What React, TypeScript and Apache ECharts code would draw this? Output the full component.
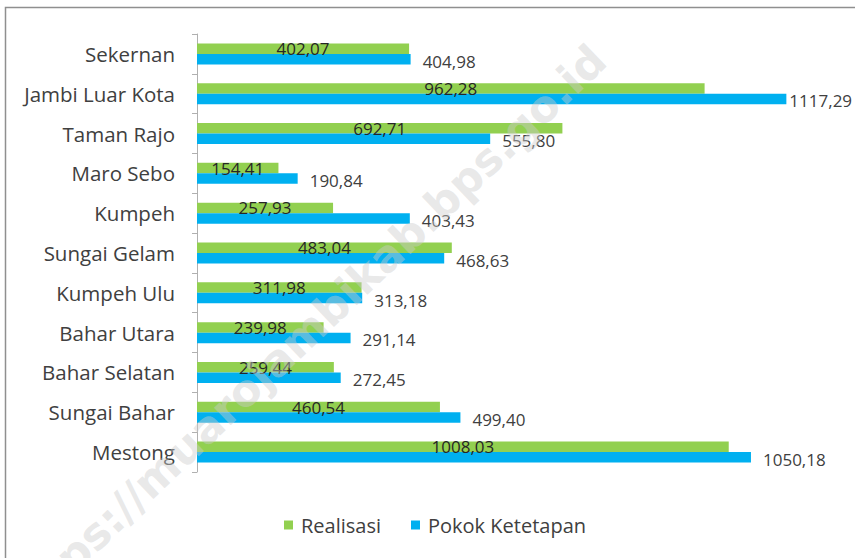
import React, { useEffect, useRef } from "react";
import * as echarts from "echarts";

const categories = [
  "Sekernan",
  "Jambi Luar Kota",
  "Taman Rajo",
  "Maro Sebo",
  "Kumpeh",
  "Sungai Gelam",
  "Kumpeh Ulu",
  "Bahar Utara",
  "Bahar Selatan",
  "Sungai Bahar",
  "Mestong",
];

const realisasi = [402.07, 962.28, 692.71, 154.41, 257.93, 483.04, 311.98, 239.98, 259.44, 460.54, 1008.03];
const pokokKetetapan = [404.98, 1117.29, 555.8, 190.84, 403.43, 468.63, 313.18, 291.14, 272.45, 499.4, 1050.18];

const seriesNames = ["Realisasi", "Pokok Ketetapan"];
const watermark = "https://muarojambikab.bps.go.id";

const fmt = (v: number) => v.toFixed(2).replace(".", ",");

export default function App() {
  const ref = useRef<HTMLDivElement>(null);
  useEffect(() => {
    if (!ref.current) return;
    const chart = echarts.init(ref.current, undefined, { renderer: "svg" });
    const font = "'Open Sans', 'Noto Sans', sans-serif";
    const axisMax = 1200;
    // labels near the right edge are pulled closer to their bar, as in the reference
    const blueData = pokokKetetapan.map((v) =>
      v > axisMax * 0.9 ? { value: v, label: { distance: 3 } } : v
    );
    chart.setOption({
      animation: false,
      backgroundColor: "#ffffff",
      textStyle: { fontFamily: font },
      grid: { left: 197, top: 34, width: 633, height: 438 },
      legend: {
        data: seriesNames,
        left: 279,
        top: 510,
        icon: "rect",
        itemWidth: 9,
        itemHeight: 9,
        itemGap: 30,
        textStyle: { fontSize: 20, color: "#404040", fontFamily: font, padding: [0, 0, 0, 3] },
      },
      xAxis: {
        type: "value",
        min: 0,
        max: axisMax,
        show: false,
      },
      yAxis: {
        type: "category",
        data: categories,
        inverse: true,
        axisLine: { show: true, lineStyle: { color: "#b0b0b0", width: 1 } },
        axisTick: { show: true, length: 5, lineStyle: { color: "#b0b0b0" } },
        axisLabel: { fontSize: 20.5, color: "#404040", margin: 22, fontFamily: font },
      },
      series: [
        {
          name: seriesNames[0],
          type: "bar",
          data: realisasi,
          barWidth: 10.5,
          barGap: "0%",
          itemStyle: { color: "#92D050" },
          label: {
            show: true,
            position: "inside",
            fontSize: 17,
            color: "#262626",
            fontFamily: font,
            formatter: (p: any) => fmt(p.value),
          },
        },
        {
          name: seriesNames[1],
          type: "bar",
          data: blueData,
          barWidth: 10.5,
          barGap: "0%",
          itemStyle: { color: "#00B0F0" },
          label: {
            show: true,
            position: "right",
            distance: 12,
            offset: [0, 2],
            fontSize: 17,
            color: "#404040",
            fontFamily: font,
            formatter: (p: any) => fmt(p.value),
          },
        },
      ],
      graphic: [
        {
          type: "rect",
          z: -10,
          shape: { x: 5.5, y: 7.5, width: 870, height: 570 },
          style: { fill: "#ffffff", stroke: "#8f8f8f", lineWidth: 1.5 },
          silent: true,
        },
        {
          type: "text",
          z: 100,
          x: 304,
          y: 334,
          rotation: 0.762,
          silent: true,
          style: {
            text: watermark,
            fontSize: 44,
            fontWeight: "bold",
            fontFamily: "'DejaVu Sans', sans-serif",
            fill: "rgba(205,205,205,0.45)",
            align: "center",
            verticalAlign: "middle",
          },
        },
      ],
    });
    return () => chart.dispose();
  }, []);
  return (
    <div
      ref={ref}
      style={{ position: "fixed", left: 0, top: 0, width: 855, height: 558 }}
    />
  );
}
